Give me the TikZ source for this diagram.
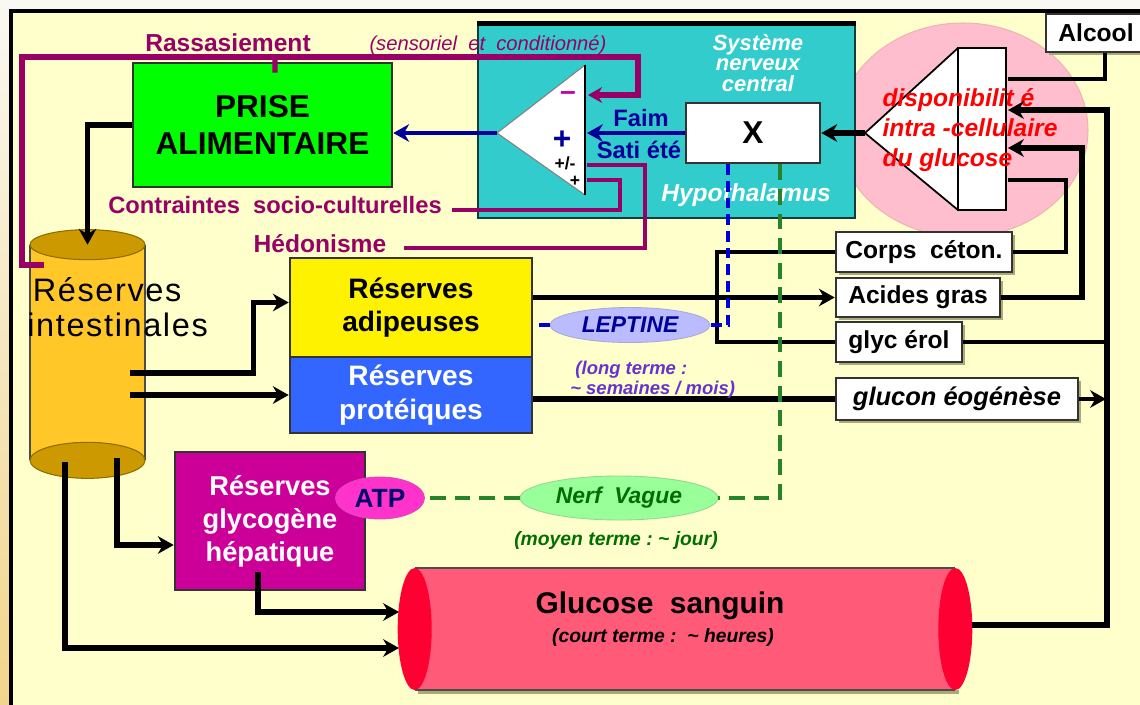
\documentclass[tikz,border=0pt]{standalone}
\usepackage{fontspec}
\setmainfont{Liberation Sans}
\usetikzlibrary{arrows.meta,shapes.geometric,shadows}
\definecolor{bgyel}{RGB}{255,255,204}
\definecolor{edgeA}{RGB}{250,248,242}
\definecolor{edgeB}{RGB}{242,213,140}
\definecolor{purp}{RGB}{153,0,102}
\definecolor{navyb}{RGB}{0,0,153}
\definecolor{tealb}{RGB}{51,204,204}
\definecolor{prisegreen}{RGB}{0,255,0}
\definecolor{gold}{RGB}{255,200,40}
\definecolor{goldd}{RGB}{204,153,0}
\definecolor{glymag}{RGB}{204,0,153}
\definecolor{atpmag}{RGB}{255,51,204}
\definecolor{nerfgreen}{RGB}{153,255,153}
\definecolor{lepblue}{RGB}{187,187,255}
\definecolor{protblue}{RGB}{51,102,255}
\definecolor{glbody}{RGB}{255,90,120}
\definecolor{glend}{RGB}{255,0,51}
\definecolor{pinkc}{RGB}{255,190,205}
\definecolor{longcol}{RGB}{102,51,204}
\definecolor{dgreen}{RGB}{0,110,0}
\definecolor{dashgreen}{RGB}{40,130,40}
\definecolor{shadowcol}{RGB}{170,170,120}
\newcommand{\fsz}[2]{\fontsize{#1}{#2}\selectfont}

\begin{document}
\begin{tikzpicture}[x=0.02cm,y=-0.02cm,
  every node/.style={inner sep=0pt},
  box/.style={draw=black!80, line width=1.5pt},
  wbox/.style={box, fill=white, font=\bfseries\fsz{14}{16},
    drop shadow={shadow xshift=1.6pt, shadow yshift=-1.6pt, fill=shadowcol, opacity=1}},
  blk/.style={line width=3pt, -{Stealth[length=9pt,width=10pt]}},
  thn/.style={line width=2pt},
  purpl/.style={draw=purp, line width=2.4pt},
  navarr/.style={draw=navyb, line width=2.8pt, -{Stealth[length=9pt,width=10pt]}},
  bdash/.style={draw=blue!85!black, line width=2pt, dash pattern=on 6pt off 3.5pt},
  gdash/.style={draw=dashgreen, line width=2pt, dash pattern=on 9pt off 5pt},
  oval/.style={ellipse, draw=#1!70!gray, fill=#1, line width=0.5pt}]
\clip (0,0) rectangle (1140,704);
\shade[top color=edgeA, bottom color=edgeB] (0,0) rectangle (11,704);
\fill[edgeA] (11,0) rectangle (1140,11);
\fill[bgyel] (11,11) rectangle (1150,715);
\draw[line width=1.8pt] (11,715) -- (11,11) -- (1150,11);

\node (prise) [box, fill=prisegreen, minimum width=5.18cm, minimum height=2.48cm, align=center, font=\bfseries\fsz{18}{21}] at (262.5,125) {PRISE\\ALIMENTAIRE};

\filldraw[fill=pinkc, draw=pinkc!80!brown, line width=0.6pt] (963,130) ellipse [x radius=125, y radius=107];
\filldraw[fill=white, draw=black, line width=1pt] (958,48) -- (865,133) -- (958,210);
\node (dispo) [box, draw=black, fill=white, minimum width=0.96cm, minimum height=3.24cm] at (982,129) {};
\node (disptxt) [text=red, align=left, font=\bfseries\itshape\fsz{14}{17}] at (970,130) {disponibilit é\\intra -cellulaire\\du glucose};
\coordinate (dtip) at (865,133);
\coordinate (din1) at (1008,79);
\coordinate (din2) at (1008,110);
\coordinate (din3) at (1008,148);
\coordinate (din4) at (1008,180);

\node (snc) [box, draw=black!70!tealb, fill=tealb, minimum width=7.54cm, minimum height=3.86cm] at (666.5,121.5) {};
\draw[line width=2.6pt] (snc.north west) -- (snc.north east);
\node (snctxt) [text=white, align=center, font=\bfseries\itshape\fsz{12.5}{11.5}] at (758,63) {Système\\nerveux\\central};
\node (hypo) [text=white, font=\bfseries\itshape\fsz{14}{16}] at (746,195) {Hypothalamus};
\filldraw[fill=white, draw=gray, line width=0.6pt] (585,65) -- (497,133) -- (585,195) -- cycle;
\draw[line width=1.5pt] (585,65) -- (585,195);
\node (tminus) [text=purp!60!magenta, font=\bfseries\fsz{16}{16}] at (568,96) {--};
\node (tplus) [text=navyb, font=\bfseries\fsz{18}{18}] at (562,140) {+};
\node (tpm) [font=\bfseries\fsz{10}{10}] at (565,163) {+/-};
\node (tplus2) [font=\bfseries\fsz{10}{10}] at (575,181) {+};
\coordinate (trtip) at (497,133);
\coordinate (trfaim) at (587,133);
\coordinate (trneg) at (588,95);
\coordinate (trhed) at (587,165);
\coordinate (trsoc) at (587,180);
\node (xbox) [box, fill=white, minimum width=2.68cm, minimum height=1.2cm, font=\bfseries\fsz{18}{18}] at (753,133) {\raisebox{-0.12cm}{X}};
\node (faim) [text=navyb, font=\bfseries\fsz{13.5}{14}] at (641,118) {Faim};
\node (satiete) [text=navyb, font=\bfseries\fsz{13.5}{14}] at (639,150) {Sati été};
\draw[navarr] (xbox.west) -- (trfaim);
\draw[navarr] (trtip) -- (prise.east |- trtip);
\draw[blk] (dtip) -- (xbox.east);

\node (alcool) [wbox, minimum width=2cm, minimum height=0.76cm] at (1096,33) {Alcool};
\node (corps) [wbox, minimum width=3.52cm, minimum height=0.8cm] at (924,252) {Corps\ \ céton.};
\node (acides) [wbox, minimum width=3.28cm, minimum height=0.78cm] at (918,297.5) {Acides gras};
\node (glycerol) [wbox, minimum width=2.52cm, minimum height=0.8cm] at (899,342) {glyc érol};
\node (gneo) [wbox, font=\bfseries\itshape\fsz{14.5}{16}, minimum width=4.84cm, minimum height=0.84cm] at (957,399) {glucon éogénèse};
\draw[thn] ([xshift=0.18cm]alcool.south) |- (din1);
\draw[thn, line width=2.4pt] (corps.east) -| (1066,180) -- (din4);
\draw[blk] (acides.east) -| (1082,148) -- (din3);
\draw[thn] (glycerol.east) -- (1107,342);
\draw[blk, line width=2.4pt] (gneo.east) -- (1106,399);
\draw[thn] (corps.west) -| (717,342) -- (glycerol.west);

\node (adip) [box, fill=yellow, minimum width=4.84cm, minimum height=1.98cm, align=center, font=\bfseries\fsz{16}{19}] at (411,307.5) {Réserves\\adipeuses};
\node (prot) [box, fill=protblue, text=white, minimum width=4.84cm, minimum height=1.52cm, align=center, font=\bfseries\fsz{16}{19}] at (411,395) {Réserves\\protéiques};
\draw[blk] (adip.east |- acides.west) -- (acides.west);
\draw[line width=3pt] (prot.east |- gneo.west) -- (gneo.west);

\node (leptine) [oval=lepblue, minimum width=3.2cm, minimum height=0.7cm, text=navyb, font=\bfseries\itshape\fsz{13}{13}] at (630,325) {LEPTINE};
\node (longterme) [anchor=west, text=longcol, align=left, font=\bfseries\itshape\fsz{10.5}{11.5}] at (570,380) {\ (long terme :\\\textasciitilde\ semaines / mois)};
\draw[bdash] ([xshift=-0.5cm]xbox.south) |- (leptine.east);
\draw[bdash] (leptine.west) -- (adip.east |- leptine.west);

\node (glyco) [box, fill=glymag, text=white, minimum width=3.8cm, minimum height=2.76cm, align=center, font=\bfseries\fsz{15.5}{18.7}] at (270,521) {Réserves\\glycogène\\hépatique};
\node (atp) [oval=atpmag, minimum width=1.78cm, minimum height=0.84cm, text=navyb!70!black, font=\bfseries\fsz{15}{15}] at (380,498) {ATP};
\node (nerf) [oval=nerfgreen, minimum width=3.96cm, minimum height=0.88cm, text=dgreen, font=\bfseries\itshape\fsz{13}{13}] at (619,498) {Nerf\ \ Vague};
\node (moyen) [text=dgreen, font=\bfseries\itshape\fsz{11}{12}] at (616,540) {(moyen terme :\ \textasciitilde\ jour)};
\draw[gdash] ([xshift=0.54cm]xbox.south) |- (nerf.east);
\draw[gdash] (nerf.west) -- (atp.east);

\node (intest) [minimum width=2.3cm, minimum height=4.3cm] at (87.5,352.5) {};
\fill[gold] (intest.north west) rectangle (intest.south east);
\draw[black!70, line width=1pt] (intest.north west) -- (intest.south west) (intest.north east) -- (intest.south east);
\filldraw[fill=goldd, draw=goldd!70!black, line width=0.6pt] (intest.south) ellipse [x radius=57.5, y radius=18];
\filldraw[fill=goldd, draw=goldd!70!black, line width=0.6pt] (intest.north) ellipse [x radius=57.5, y radius=15];
\node (intxt) [anchor=west, align=left, font=\fsz{18.5}{20}\addfontfeature{LetterSpace=5}] at (27,307) {\,Réserves\\intestinales};
\coordinate (i1) at (130,373);
\coordinate (i2) at (130,395);
\coordinate (i3) at (117,458);
\coordinate (i4) at (65,462);

\node (gluc) [minimum width=10.8cm, minimum height=2.44cm] at (685,629) {};
\fill[shadowcol] ([xshift=2pt,yshift=-2pt]gluc.south west) rectangle ([xshift=2pt]gluc.south east);
\fill[glbody] (gluc.north west) rectangle (gluc.south east);
\draw[black!70, line width=1pt] (gluc.north west) -- (gluc.north east) (gluc.south west) -- (gluc.south east);
\fill[glend] (gluc.west) ellipse [x radius=17, y radius=61];
\fill[glend] (gluc.east) ellipse [x radius=17, y radius=61];
\node (glutxt) [font=\bfseries\fsz{17}{18}] at (660,606) {Glucose\ \ sanguin};
\node (glusub) [font=\bfseries\itshape\fsz{11}{12}] at (663,637) {(court terme :\ \ \textasciitilde\ heures)};
\coordinate (g1) at (399,612);
\coordinate (g2) at (399,648);
\coordinate (g3) at (972,625);
\coordinate (h1) at (258,572);

\draw[blk] (prise.west) -| (intest.north);
\draw[blk] (i1) -| ([xshift=-0.7cm,yshift=0.1cm]adip.west) -- ([yshift=0.1cm]adip.west);
\draw[blk] (i2) -- (prot.west |- i2);
\draw[blk] (i3) |- ([yshift=-0.48cm]glyco.west);
\draw[blk] (i4) |- (g2);
\draw[blk] (h1) |- (g1);
\draw[blk, line width=3.6pt] (g3) -| (1107,110) -- (din2);

\coordinate (r0) at (44,265);
\draw[purpl, line width=3pt, -{Stealth[length=8pt,width=9pt]}] (r0) -- (22,265) -- (22,57) -- (638,57) -- (638,95) -- (trneg);
\draw[purpl, line width=3pt] (275,57) -- ([xshift=0.25cm,yshift=-0.22cm]prise.north);
\node (rass) [text=purp, font=\bfseries\fsz{14}{16}] at (228,43) {Rassasiement};
\node (sensoriel) [text=purp, font=\itshape\fsz{11.5}{13}] at (488,45) {(sensoriel\ \ et\ \ conditionné)};
\node (contraintes) [text=purp, font=\bfseries\fsz{13.5}{16}] at (275,205) {Contraintes\ \ socio-culturelles};
\draw[purpl] ([xshift=0.2cm,yshift=-0.1cm]contraintes.east) -| (620,180) -- (trsoc);
\node (hedonisme) [text=purp, font=\bfseries\fsz{14}{16}] at (320,244) {Hédonisme};
\draw[purpl] ([xshift=0.35cm,yshift=-0.08cm]hedonisme.east) -| (645,165) -- (trhed);
\end{tikzpicture}
\end{document}
